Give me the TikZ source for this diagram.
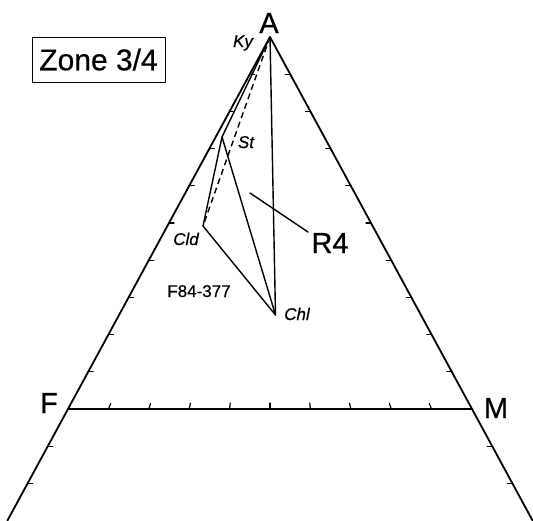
\documentclass[tikz,border=0pt]{standalone}
\usepackage{fontspec}
\setmainfont[FakeBold=0.6]{Liberation Sans}
\usetikzlibrary{calc}
\begin{document}
\begin{tikzpicture}[x=1pt,y=-1pt,line cap=round,line join=round,
  edge/.style={line width=1.8pt},
  tie/.style={line width=1.4pt},
  tickmark/.style={line width=1.2pt},
  dashtie/.style={line width=1.4pt,line cap=butt,dash pattern=on 6pt off 4pt},
  big/.style={font=\fontsize{29}{29}\selectfont,inner sep=0pt,anchor=base},
  phase/.style={font=\fontsize{17}{17}\selectfont\itshape,inner sep=0pt,anchor=base},
  ]
\useasboundingbox (0,0) rectangle (533,520);
% corners
\coordinate (A) at (270,37);
\coordinate (F) at (68,409);
\coordinate (M) at (472,409);
\coordinate (BL) at ($(A)!1.3!(F)$);
\coordinate (BR) at ($(A)!1.3!(M)$);
% triangle
\draw[edge] (BL) -- (A) -- (BR);
\draw[edge] (F) -- (M);
% ticks on sides
\foreach \k in {1,2,3,4,5,6,7,8,9,11,12}{
  \draw[tickmark] ($(A)!\k/10!(F)$) -- ++(5,0);
  \draw[tickmark] ($(A)!\k/10!(M)$) -- ++(-5,0);
}
% ticks on base, toward A
\foreach \k in {1,2,3,4,5,6,7,8,9}{
  \draw[tickmark] ($(F)!\k/10!(M)$) coordinate (t\k) -- ($(t\k)!6pt!(A)$);
}
% phases
\coordinate (Ky) at (270,37);
\coordinate (St) at (222,137);
\coordinate (Cld) at (203,226);
\coordinate (Chl) at (275.5,315);
\draw[tie] (Ky) -- (St) -- (Cld) -- (Chl) -- (St);
\draw[tie] (Ky) -- (Chl);
\draw[dashtie] (Ky) -- (Cld);
% R4 leader
\coordinate (r4a) at (250,193);
\coordinate (r4b) at (308,232);
\draw[tie] (r4a) -- (r4b);
% labels
\node[big] (lA) at (269,33) {A};
\node[big] (lF) at (49,413) {F};
\node[big] (lM) at (496,418) {M};
\node[big] (lR4) at (330,253) {R4};
\node[phase] (lKy) at (243,47) {Ky};
\node[phase] (lSt) at (246,148) {St};
\node[phase] (lCld) at (186,245) {Cld};
\node[phase] (lChl) at (297,320) {Chl};
\node[font=\fontsize{17}{17}\selectfont,inner sep=0pt,anchor=base] (lsample) at (199,297) {F84-377};
\node[draw,line width=1pt,font=\fontsize{30}{30}\selectfont,minimum width=133pt,
  text height=21.5pt,text depth=0pt,inner ysep=11.75pt] (zone) at (98.5,59.5) {Zone 3/4};
\end{tikzpicture}
\end{document}
